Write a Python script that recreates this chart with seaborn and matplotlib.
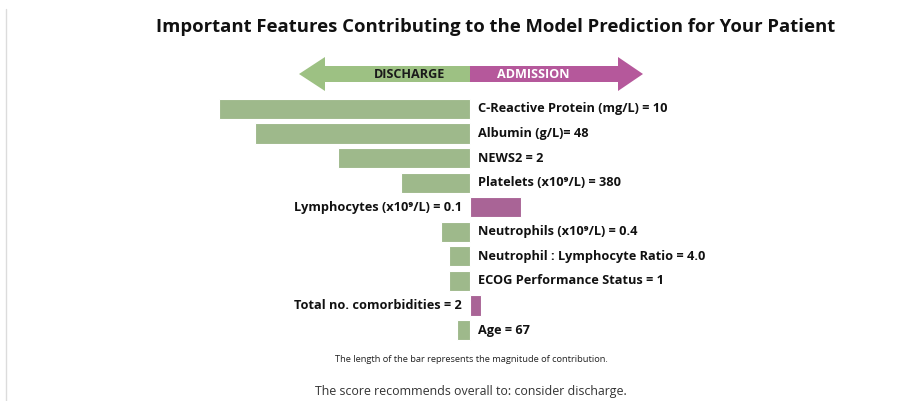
import matplotlib.pyplot as plt
import seaborn as sns
import pandas as pd
from matplotlib.patches import Polygon
from matplotlib.lines import Line2D

# Feature contributions (negative = towards discharge, positive = towards admission)
features = [
    "C-Reactive Protein (mg/L) = 10",
    "Albumin (g/L)= 48",
    "NEWS2 = 2",
    "Platelets (x10\u2079/L) = 380",
    "Lymphocytes (x10\u2079/L) = 0.1",
    "Neutrophils (x10\u2079/L) = 0.4",
    "Neutrophil : Lymphocyte Ratio = 4.0",
    "ECOG Performance Status = 1",
    "Total no. comorbidities = 2",
    "Age = 67",
]
contributions = [-0.251, -0.215, -0.132, -0.069, 0.051, -0.029, -0.021, -0.021, 0.011, -0.013]

GREEN = "#9dc183"
PURPLE = "#b5589b"

df = pd.DataFrame({"feature": features, "value": contributions})
df["direction"] = ["Admission" if v > 0 else "Discharge" for v in df["value"]]

sns.set_theme(style="white")
plt.rcParams["font.family"] = ["Open Sans", "DejaVu Sans"]

W, H = 920, 401
fig = plt.figure(figsize=(W / 100, H / 100), dpi=100)

# bar axes: zero line sits at x=470px, rows from 109px to 330px
top_px, bot_px = 96.7, 342.3
ax = fig.add_axes([200 / W, 1 - bot_px / H, 540 / W, (bot_px - top_px) / H])
sns.barplot(
    data=df, x="value", y="feature", hue="direction",
    palette={"Discharge": GREEN, "Admission": PURPLE},
    dodge=False, width=0.82, legend=False, ax=ax,
    edgecolor="white", linewidth=0.8, orient="h",
)
ax.set_xlim(-0.27, 0.27)
ax.set_ylim(len(features) - 0.5, -0.5)
ax.axis("off")

for i, (name, v) in enumerate(zip(features, contributions)):
    if v < 0:
        ax.annotate(name, (0, i), xytext=(8, 0), textcoords="offset pixels",
                    ha="left", va="center", fontsize=9.2, fontweight="bold", color="#111111")
    else:
        ax.annotate(name, (0, i), xytext=(-8, 0), textcoords="offset pixels",
                    ha="right", va="center", fontsize=9.2, fontweight="bold", color="#111111")

# overlay in pixel coordinates for title, arrow and notes
ov = fig.add_axes([0, 0, 1, 1], zorder=-1)
ov.set_xlim(0, W)
ov.set_ylim(H, 0)
ov.axis("off")

ov.add_line(Line2D([6, 6], [9, H], color="#dcdcdc", lw=1))

ov.text(496, 27, "Important Features Contributing to the Model Prediction for Your Patient",
        ha="center", va="center", fontsize=13.3, fontweight="bold", color="#111111")

ov.add_patch(Polygon([(299, 74), (325, 57), (325, 66), (470, 66), (470, 82), (325, 82), (325, 91)],
                     closed=True, facecolor=GREEN, edgecolor="none"))
ov.add_patch(Polygon([(643, 74), (618, 57), (618, 66), (470, 66), (470, 82), (618, 82), (618, 91)],
                     closed=True, facecolor=PURPLE, edgecolor="none"))
ov.text(410, 74.5, "DISCHARGE", ha="center", va="center", fontsize=9.1,
        fontweight="bold", color="#1a1a1a")
ov.text(533, 74.5, "ADMISSION", ha="center", va="center", fontsize=9.1,
        fontweight="bold", color="white")

ov.text(471, 360, "The length of the bar represents the magnitude of contribution.",
        ha="center", va="center", fontsize=6.7, color="#222222")
ov.text(471, 392, "The score recommends overall to: consider discharge.",
        ha="center", va="center", fontsize=8.9, color="#333333")

fig.savefig("out.png", dpi=100)
plt.close(fig)
